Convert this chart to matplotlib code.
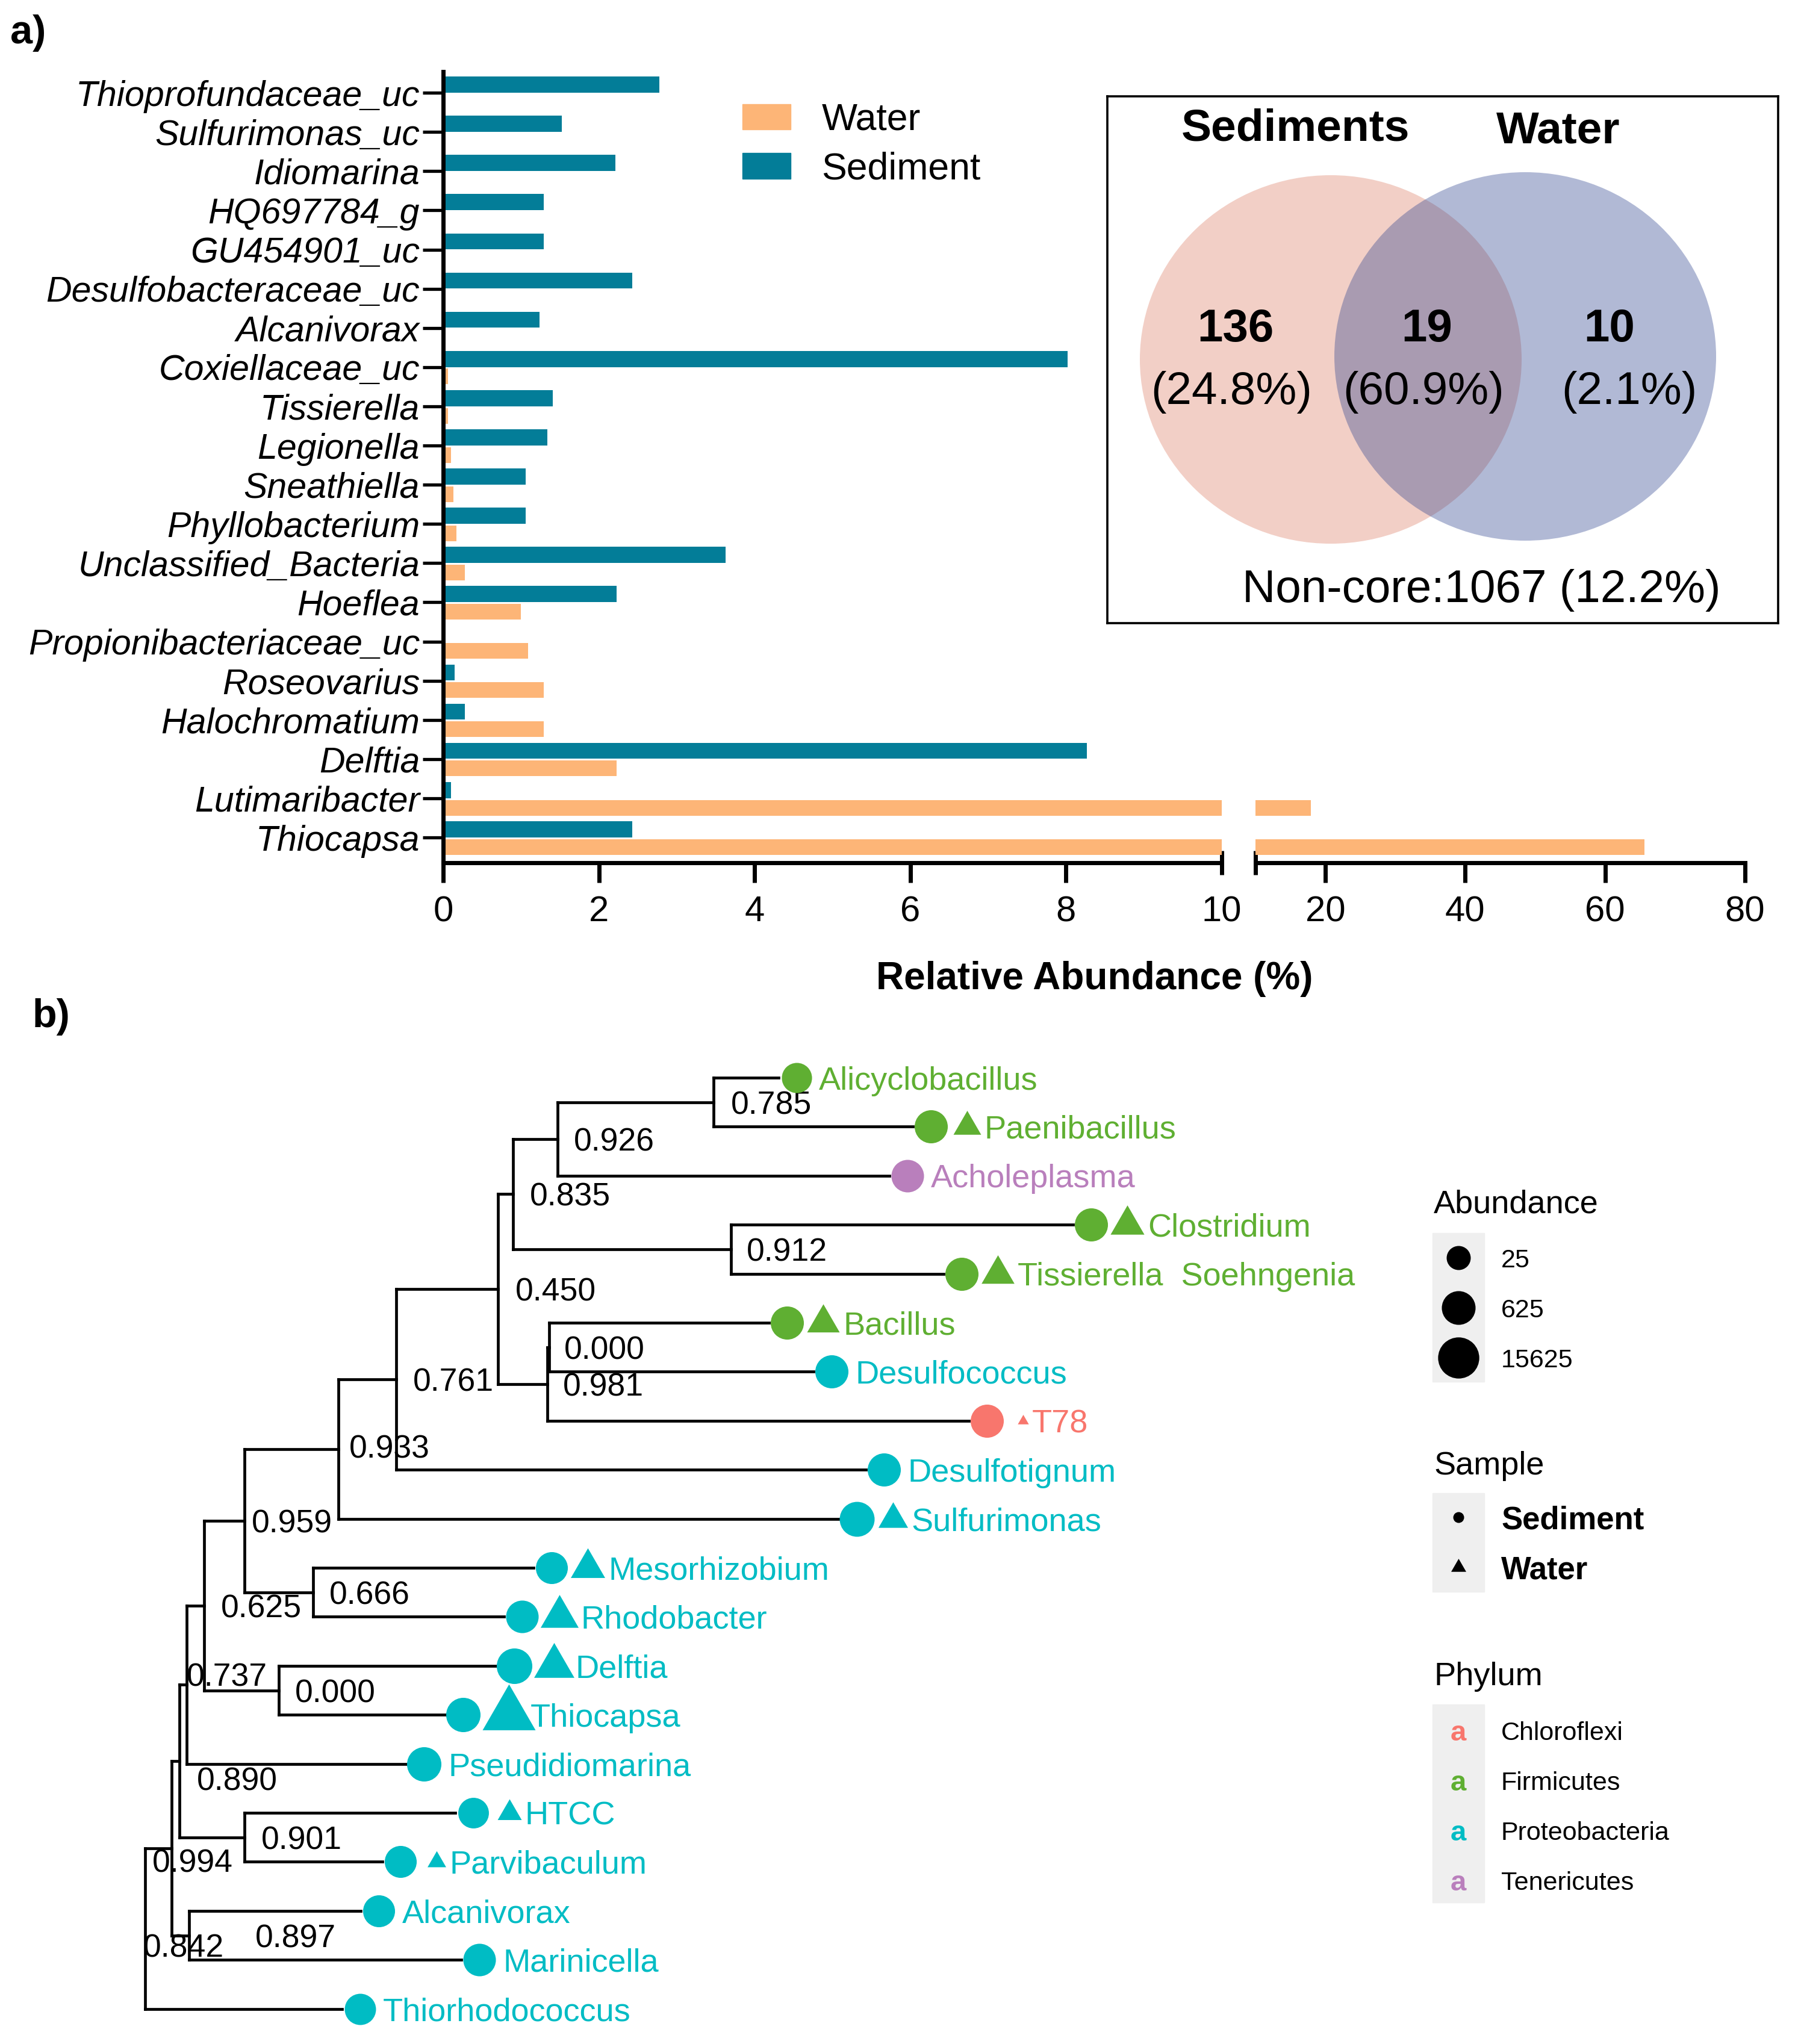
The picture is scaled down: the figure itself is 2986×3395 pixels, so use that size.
import numpy as np
import matplotlib
matplotlib.use("Agg")
import matplotlib.pyplot as plt
from matplotlib.patches import Patch, Ellipse, Rectangle
from matplotlib.collections import LineCollection

plt.rcParams['font.family'] = ['Liberation Sans', 'DejaVu Sans']

W, H = 2986, 3395
PT = 100 / 72  # pixels per point at dpi 100

# ---------------------------------------------------------------- panel a data
genera = ["Thioprofundaceae_uc", "Sulfurimonas_uc", "Idiomarina", "HQ697784_g", "GU454901_uc",
          "Desulfobacteraceae_uc", "Alcanivorax", "Coxiellaceae_uc", "Tissierella", "Legionella",
          "Sneathiella", "Phyllobacterium", "Unclassified_Bacteria", "Hoeflea",
          "Propionibacteriaceae_uc", "Roseovarius", "Halochromatium", "Delftia",
          "Lutimaribacter", "Thiocapsa"]
sediment = [2.78, 1.52, 2.21, 1.29, 1.29, 2.43, 1.24, 8.02, 1.41, 1.34,
            1.06, 1.06, 3.63, 2.23, 0.0, 0.15, 0.28, 8.27, 0.10, 2.43]
water = [0, 0, 0, 0, 0, 0, 0, 0.06, 0.06, 0.10,
         0.13, 0.17, 0.28, 1.00, 1.09, 1.29, 1.29, 2.23, 17.9, 65.6]
ticks_low = [0, 2, 4, 6, 8]
ticks_high = [20, 40, 60, 80]

# venn (core genera)
venn_sets = ["Sediments", "Water"]
venn_counts = [136, 19, 10]
venn_pct = [24.8, 60.9, 2.1]
noncore_count = 1067
noncore_pct = 12.2

# ---------------------------------------------------------------- panel b data
tips = ["Alicyclobacillus", "Paenibacillus", "Acholeplasma", "Clostridium",
        "Tissierella  Soehngenia", "Bacillus", "Desulfococcus", "T78", "Desulfotignum",
        "Sulfurimonas", "Mesorhizobium", "Rhodobacter", "Delftia", "Thiocapsa",
        "Pseudidiomarina", "HTCC", "Parvibaculum", "Alcanivorax", "Marinicella",
        "Thiorhodococcus"]
tip_phylum = ["Firmicutes", "Firmicutes", "Tenericutes", "Firmicutes", "Firmicutes",
              "Firmicutes", "Proteobacteria", "Chloroflexi", "Proteobacteria",
              "Proteobacteria", "Proteobacteria", "Proteobacteria", "Proteobacteria",
              "Proteobacteria", "Proteobacteria", "Proteobacteria", "Proteobacteria",
              "Proteobacteria", "Proteobacteria", "Proteobacteria"]
tip_depth = [1.052, 1.275, 1.236, 1.541, 1.326, 1.036, 1.110, 1.368, 1.197, 1.152,
             0.645, 0.596, 0.583, 0.498, 0.433, 0.515, 0.394, 0.358, 0.525, 0.327]
sed_abund = [170, 500, 400, 500, 500, 500, 500, 500, 500, 1000,
             320, 400, 1300, 800, 800, 200, 320, 320, 400, 250]
water_abund = [0, 25, 0, 130, 100, 90, 0, 1.5, 0, 40,
               150, 480, 1050, 186000, 0, 11, 4, 0, 0, 0]

node_ids = ["root", "n994", "n890", "n737", "n625", "n959", "n933", "n761", "n450", "n835",
            "n926", "n785", "n912", "n981", "n000a", "n666", "n000b", "n901", "n897"]
node_children = [("n994", "Thiorhodococcus"), ("n890", "n897"), ("n737", "n901"),
                 ("n625", "Pseudidiomarina"), ("n959", "n000b"), ("n933", "n666"),
                 ("n761", "Sulfurimonas"), ("n450", "Desulfotignum"), ("n835", "n981"),
                 ("n926", "n912"), ("n785", "Acholeplasma"),
                 ("Alicyclobacillus", "Paenibacillus"),
                 ("Clostridium", "Tissierella  Soehngenia"), ("n000a", "T78"),
                 ("Bacillus", "Desulfococcus"), ("Mesorhizobium", "Rhodobacter"),
                 ("Delftia", "Thiocapsa"), ("HTCC", "Parvibaculum"),
                 ("Alcanivorax", "Marinicella")]
node_depth = [0.000, 0.044, 0.057, 0.069, 0.098, 0.165, 0.321, 0.417, 0.586, 0.611,
              0.685, 0.944, 0.973, 0.668, 0.671, 0.279, 0.222, 0.165, 0.073]
node_support = ["0.842", "0.994", "0.890", "0.737", "0.625", "0.959", "0.933", "0.761",
                "0.450", "0.835", "0.926", "0.785", "0.912", "0.981", "0.000", "0.666",
                "0.000", "0.901", "0.897"]
# label nudges in pixels (dx, dy), as placed in the original figure
label_nudge = [(-3, 28), (-32, 20), (29, 29), (0, -17), (28, 0), (12, 0), (18, -5), (28, 0),
               (29, 0), (28, 0), (27, 0), (29, 0), (26, 0), (26, 0), (25, 0), (27, 0),
               (27, 0), (28, 0), (110, 0)]

abund_breaks = [25, 625, 15625]
phyla = ["Chloroflexi", "Firmicutes", "Proteobacteria", "Tenericutes"]
phylum_colors = ["#F8766D", "#5FAF32", "#00BCC4", "#B97FBC"]

ORANGE = "#FDB577"
TEAL = "#037D98"

fig = plt.figure(figsize=(W / 100, H / 100), dpi=100)


def fbox(x0, y0, x1, y1):
    # pixel box (top-left origin) -> figure fraction rect
    return [x0 / W, 1 - y1 / H, (x1 - x0) / W, (y1 - y0) / H]


# ---------------------------------------------------------------- panel a: broken bar chart
ax1 = fig.add_axes(fbox(736, 119, 2029, 1433))
ax2 = fig.add_axes(fbox(2085, 119, 2898, 1433), sharey=ax1)
ypos = np.arange(len(genera))
for ax in (ax1, ax2):
    ax.barh(ypos - 0.21, sediment, height=0.41, color=TEAL, zorder=2)
    ax.barh(ypos + 0.24, water, height=0.40, color=ORANGE, zorder=2)
    for s in ("top", "right"):
        ax.spines[s].set_visible(False)
    ax.spines["bottom"].set_linewidth(5)
    ax.tick_params(axis="x", which="major", length=24, width=5, labelsize=43, pad=15)
    ax.tick_params(axis="x", which="minor", length=29, width=5, direction="inout",
                   labelsize=43, pad=15 + 9.4)

ax1.set_xlim(0, 10)
ax1.set_xticks(ticks_low)
ax1.set_xticks([10], labels=["10"], minor=True)
ax1.set_ylim(len(genera) - 1 + 0.645, -0.54)
ax1.set_yticks(ypos, labels=genera, fontstyle="italic", fontsize=42.5)
ax1.spines["left"].set_linewidth(5)
ax1.tick_params(axis="y", length=24.5, width=3.8, pad=3.5)

ax2.set_xlim(10, 80)
ax2.set_xticks(ticks_high)
ax2.set_xticks([10], labels=[""], minor=True)
ax2.spines["left"].set_visible(False)
ax2.tick_params(axis="y", left=False, labelleft=False)

fig.text(1818 / W, 1 - 1619 / H, "Relative Abundance (%)", fontsize=46,
         fontweight="bold", ha="center", va="center_baseline")

fig.legend(handles=[Patch(color=ORANGE, label="Water"), Patch(color=TEAL, label="Sediment")],
           loc="upper left", bbox_to_anchor=(1233 / W, 1 - 170 / H), frameon=False,
           fontsize=45, handlelength=1.28, handleheight=0.66, handletextpad=0.82,
           borderpad=0, borderaxespad=0, labelspacing=0.36)

# venn diagram box
axv = fig.add_axes(fbox(1839, 160, 2953, 1035))
axv.set_xlim(0, 1114)
axv.set_ylim(875, 0)
axv.set_xticks([])
axv.set_yticks([])
for s in axv.spines.values():
    s.set_linewidth(2.6)
axv.add_patch(Ellipse((371, 437), 634, 612, facecolor="#F2CFC6", edgecolor="none"))
axv.add_patch(Ellipse((694, 432), 634, 612, facecolor="#324791", alpha=0.38, edgecolor="none"))
axv.text(313, 46, venn_sets[0], fontsize=54, fontweight="bold", ha="center", va="center_baseline")
axv.text(749, 51, venn_sets[1], fontsize=54, fontweight="bold", ha="center", va="center_baseline")
for cx, px, cnt, pct in zip([213, 531, 834], [206, 525, 867], venn_counts, venn_pct):
    axv.text(cx, 379, f"{cnt}", fontsize=55, fontweight="bold", ha="center", va="center_baseline")
    axv.text(px, 483, f"({pct}%)", fontsize=55, ha="center", va="center_baseline")
axv.text(621, 812, f"Non-core:{noncore_count} ({noncore_pct}%)", fontsize=55,
         ha="center", va="center_baseline")

# ---------------------------------------------------------------- panel b: tree
TOP_B = 1740
X0, XS = 241, 1000.0    # pixel of depth 0, pixels per depth unit
Y0, YS = 1790, 81.4     # pixel of first tip, pixels per tip
axt = fig.add_axes(fbox(0, TOP_B, W, H))
axt.set_xlim(-X0 / XS, (W - X0) / XS)
axt.set_ylim((H - Y0) / YS, (TOP_B - Y0) / YS)
axt.axis("off")

xpos = dict(zip(tips, tip_depth))
ypos_t = {t: float(i) for i, t in enumerate(tips)}
xpos.update(dict(zip(node_ids, node_depth)))
kids = dict(zip(node_ids, node_children))


def place(node):
    if node in ypos_t:
        return ypos_t[node]
    ys = [place(k) for k in kids[node]]
    ypos_t[node] = (ys[0] + ys[-1]) / 2
    return ypos_t[node]


place("root")
segs = []
for nd in node_ids:
    ch = kids[nd]
    segs.append([(xpos[nd], ypos_t[ch[0]]), (xpos[nd], ypos_t[ch[-1]])])
    for c in ch:
        segs.append([(xpos[nd], ypos_t[c]), (xpos[c], ypos_t[c])])
axt.add_collection(LineCollection(segs, colors="black", linewidths=3.4, capstyle="projecting"))

for nd, lab, (dx, dy) in zip(node_ids, node_support, label_nudge):
    axt.text(xpos[nd] + dx / XS, ypos_t[nd] + dy / YS, lab, fontsize=38.5,
             ha="left", va="center_baseline")


def marker_px(ab):
    return np.sqrt(60 + 1100 * np.log10(ab))


tri = [(-1, -0.577), (1, -0.577), (0, 1.155)]
pcol = dict(zip(phyla, phylum_colors))
for i, t in enumerate(tips):
    col = pcol[tip_phylum[i]]
    d = marker_px(sed_abund[i])
    cx = tip_depth[i] + 30 / XS
    axt.scatter([cx], [i], s=(d / PT) ** 2, color=col, marker="o", linewidths=0, zorder=3)
    if water_abund[i] > 0:
        w = 1.15 * marker_px(water_abund[i])
        off = max(60, d / 2 + w / 2 + 3)
        tx = cx + off / XS
        axt.scatter([tx], [i], s=(w / PT / 0.866) ** 2, color=col, marker=tri,
                    linewidths=0, zorder=3)
        lx = tx + (min(w / 2, 30) + 6) / XS
    else:
        lx = cx + (d / 2 + 12) / XS
    axt.text(lx, i, t, color=col, fontsize=39, ha="left", va="center_baseline")

# ---------------------------------------------------------------- panel b legends
axl = fig.add_axes([0, 0, 1, 1])
axl.set_xlim(0, W)
axl.set_ylim(H, 0)
axl.axis("off")
KX, LX, TX = 2422, 2493, 2381
GREY = "#EFEFEF"

axl.text(TX, 1995, "Abundance", fontsize=39, va="center_baseline")
axl.add_patch(Rectangle((2379, 2048), 86, 247, color=GREY, zorder=0))
for k, ab in enumerate(abund_breaks):
    yy = 2089 + 83 * k
    axl.scatter([KX], [yy], s=(marker_px(ab) / PT) ** 2, color="black", linewidths=0)
    axl.text(LX, yy, f"{ab}", fontsize=31, va="center_baseline")

axl.text(TX, 2429, "Sample", fontsize=39, va="center_baseline")
axl.add_patch(Rectangle((2379, 2480), 86, 164, color=GREY, zorder=0))
axl.scatter([KX], [2520], s=(18 / PT) ** 2, color="black", marker="o", linewidths=0)
axl.scatter([KX], [2603], s=(25 / PT / 0.866) ** 2, color="black", marker=tri, linewidths=0)
axl.text(LX, 2520, "Sediment", fontsize=38, fontweight="bold", va="center_baseline")
axl.text(LX, 2603, "Water", fontsize=38, fontweight="bold", va="center_baseline")

axl.text(TX, 2779, "Phylum", fontsize=39, va="center_baseline")
axl.add_patch(Rectangle((2379, 2831), 86, 329, color=GREY, zorder=0))
for k, (ph, col) in enumerate(zip(phyla, phylum_colors)):
    yy = 2874 + 83 * k
    axl.text(KX, yy, "a", color=col, fontsize=34, fontweight="bold", ha="center",
             va="center_baseline")
    axl.text(LX, yy, ph, fontsize=31, va="center_baseline")

# panel letters
axl.text(17, 72, "a)", fontsize=48, fontweight="bold", va="baseline")
axl.text(54, 1706, "b)", fontsize=48, fontweight="bold", va="baseline")

fig.savefig("out.png", dpi=100)
